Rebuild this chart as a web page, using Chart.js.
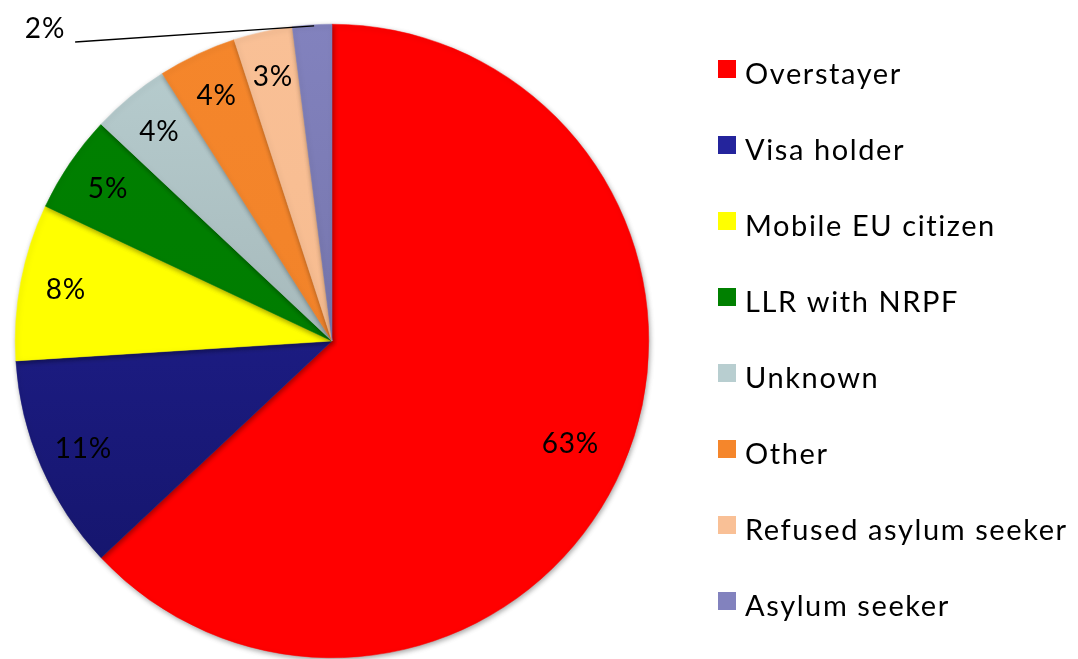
<!DOCTYPE html>
<html>
<head>
<meta charset="utf-8">
<script src="https://cdn.jsdelivr.net/npm/chart.js@4"></script>
<style>
  html, body { margin: 0; padding: 0; background: #fff; }
  #wrap { width: 1078px; height: 659px; position: relative; }
</style>
</head>
<body>
<div id="wrap"><canvas id="pie"></canvas></div>
<script>
const categories = ['Overstayer', 'Visa holder', 'Mobile EU citizen', 'LLR with NRPF',
                    'Unknown', 'Other', 'Refused asylum seeker', 'Asylum seeker'];
const shares = [63, 11, 8, 5, 4, 4, 3, 2];

// fill colours: [top, bottom] of a soft vertical shading
const fills = [
  ['#ff0000', '#ff0000'],
  ['#24249c', '#131366'],
  ['#ffff00', '#ffff00'],
  ['#008000', '#007a00'],
  ['#b8ced0', '#95a5a7'],
  ['#f5862b', '#ef8028'],
  ['#f9c096', '#f5b88a'],
  ['#8282be', '#6a6a9c']
];
const FONT = 'Lato, "Open Sans", sans-serif';

function shade(ctx, i) {
  const area = ctx.chart.chartArea;
  if (!area) return fills[i][0];
  const g = ctx.chart.ctx.createLinearGradient(0, area.top, 0, area.bottom);
  g.addColorStop(0, fills[i][0]);
  g.addColorStop(1, fills[i][1]);
  return g;
}

// soft drop shadow under the pie
const pieShadow = {
  id: 'pieShadow',
  beforeDatasetsDraw(chart) {
    const c = chart.ctx;
    c.save();
    c.shadowColor = 'rgba(0,0,0,0.35)';
    c.shadowBlur = 5;
    c.shadowOffsetX = 1;
    c.shadowOffsetY = 2;
  },
  afterDatasetsDraw(chart) { chart.ctx.restore(); }
};

// percentage labels inside slices, with a leader line for the thin slice
const sliceLabels = {
  id: 'sliceLabels',
  afterDraw(chart, args, opts) {
    const c = chart.ctx;
    const meta = chart.getDatasetMeta(0);
    const values = chart.data.datasets[0].data;
    c.save();
    c.font = `${opts.size}px ${FONT}`;
    c.letterSpacing = opts.spacing + 'px';
    c.fillStyle = '#000';
    c.textAlign = 'center';
    c.textBaseline = 'middle';
    meta.data.forEach((arc, i) => {
      const mid = (arc.startAngle + arc.endAngle) / 2;
      const text = values[i] + '%';
      if (values[i] < opts.insideMin) {
        const ex = arc.x + Math.cos(mid) * arc.outerRadius;
        const ey = arc.y + Math.sin(mid) * arc.outerRadius;
        const tw = c.measureText(text).width;
        c.fillText(text, opts.callout.x, opts.callout.y);
        c.beginPath();
        c.strokeStyle = '#000';
        c.lineWidth = 1.3;
        c.moveTo(opts.callout.x + tw / 2 + 10, opts.callout.y + 13);
        c.lineTo(ex + 2, ey + 1);
        c.stroke();
      } else {
        const r = arc.outerRadius * (values[i] > 50 ? opts.bigRadius : opts.radius);
        c.fillText(text, arc.x + Math.cos(mid) * r, arc.y + Math.sin(mid) * r);
      }
    });
    c.restore();
  }
};

// legend column to the right of the pie
const sideLegend = {
  id: 'sideLegend',
  afterDraw(chart, args, opts) {
    const c = chart.ctx;
    c.save();
    c.font = `${opts.size}px ${FONT}`;
    c.letterSpacing = opts.spacing + 'px';
    c.textAlign = 'left';
    c.textBaseline = 'alphabetic';
    chart.data.labels.forEach((lab, i) => {
      const y = opts.top + i * opts.step;
      c.fillStyle = fills[i][0];
      c.fillRect(opts.left, y, opts.box, opts.box);
      c.fillStyle = '#000';
      c.fillText(lab, opts.left + opts.box + opts.gap, y + opts.baseline);
    });
    c.restore();
  }
};

new Chart(document.getElementById('pie'), {
  type: 'pie',
  data: {
    labels: categories,
    datasets: [{
      data: shares,
      backgroundColor: ctx => shade(ctx, ctx.dataIndex),
      borderColor: ctx => shade(ctx, ctx.dataIndex),
      borderWidth: 0.5
    }]
  },
  options: {
    responsive: true,
    maintainAspectRatio: false,
    animation: false,
    layout: { padding: { left: 15, right: 429, top: 24, bottom: 1 } },
    plugins: {
      legend: { display: false },
      tooltip: { enabled: false },
      sliceLabels: { size: 28, spacing: 0.8, radius: 0.855, bigRadius: 0.82, insideMin: 3, callout: { x: 45, y: 29 } },
      sideLegend: { left: 718, top: 60, step: 76, box: 18, gap: 9, size: 29, spacing: 1.6, baseline: 24 }
    }
  },
  plugins: [pieShadow, sliceLabels, sideLegend]
});
</script>
</body>
</html>
